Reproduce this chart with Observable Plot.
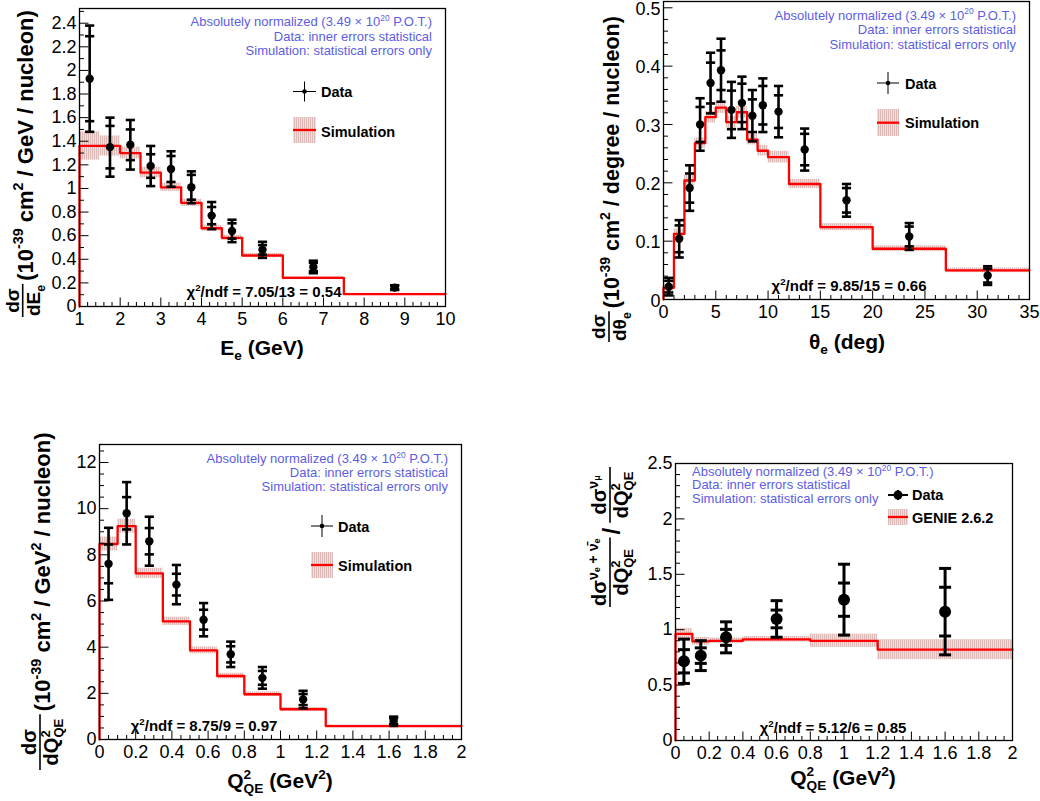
<!DOCTYPE html>
<html><head><meta charset="utf-8">
<script src="https://cdn.jsdelivr.net/npm/d3@7"></script>
<script src="https://cdn.jsdelivr.net/npm/@observablehq/plot@0.6"></script>
<style>
body{margin:0;background:#fff;}
#root{position:relative;width:1040px;height:801px;overflow:hidden;background:#fff;}
#root svg{position:absolute;}
</style></head><body>
<svg width="0" height="0" style="position:absolute"><defs>
<pattern id="hatch" width="2" height="2" patternUnits="userSpaceOnUse"><rect width="2" height="2" fill="#efdfdd"/><rect width="1" height="2" fill="#dcbab7"/></pattern>
</defs></svg>
<div id="root"></div>
<script>
// ---------- Panel 1: dσ/dE_e ----------
const eEdges = [1,1.5,2,2.5,3,3.5,4,4.5,5,6,7.5,10];
const eSim = [1.36,1.36,1.30,1.135,1.01,0.878,0.663,0.582,0.432,0.243,0.104];
const eSimErr = [0.12,0.085,0.05,0.045,0.035,0.03,0.025,0.022,0.018,0.012,0.008];
const eX = [1.25,1.75,2.25,2.75,3.25,3.75,4.25,4.75,5.5,6.75,8.75];
const eY = [1.93,1.35,1.37,1.19,1.165,1.01,0.77,0.64,0.48,0.335,0.16];
const eStat = [0.36,0.18,0.13,0.10,0.11,0.105,0.073,0.065,0.04,0.035,0.015];
const eTot = [0.45,0.25,0.21,0.17,0.15,0.135,0.115,0.095,0.068,0.053,0.02];
const eXTicks = [1,2,3,4,5,6,7,8,9,10];
const eYTicks = [0,0.2,0.4,0.6,0.8,1,1.2,1.4,1.6,1.8,2,2.2,2.4];

// ---------- Panel 2: dσ/dθ_e ----------
const tEdges = [0,1,2,3,4,5,6,7,8,9,10,12,15,20,27,35];
const tSim = [0.02,0.1126,0.204,0.268,0.3126,0.329,0.304,0.321,0.274,0.255,0.244,0.198,0.124,0.087,0.05];
const tSimErr = [0.006,0.008,0.009,0.009,0.01,0.01,0.01,0.01,0.009,0.009,0.01,0.008,0.006,0.005,0.004];
const tX = [0.5,1.5,2.5,3.5,4.5,5.5,6.5,7.5,8.5,9.5,11,13.5,17.5,23.5,31];
const tY = [0.022,0.104,0.191,0.30,0.371,0.393,0.325,0.337,0.315,0.333,0.322,0.257,0.17,0.108,0.041];
const tStat = [0.01,0.023,0.025,0.03,0.035,0.034,0.033,0.033,0.028,0.033,0.028,0.027,0.021,0.017,0.012];
const tTot = [0.015,0.032,0.039,0.045,0.052,0.054,0.048,0.045,0.044,0.046,0.044,0.036,0.028,0.023,0.016];
const tXTicks = [0,5,10,15,20,25,30,35];
const tYTicks = [0,0.1,0.2,0.3,0.4,0.5];

// ---------- Panel 3: dσ/dQ²_QE ----------
const qEdges = [0,0.1,0.2,0.35,0.5,0.65,0.8,1.0,1.25,2.0];
const qSim = [8.47,9.24,7.2,5.12,3.86,2.75,1.96,1.31,0.58];
const qSimErr = [0.3,0.3,0.22,0.18,0.15,0.12,0.1,0.08,0.05];
const qX = [0.05,0.15,0.275,0.425,0.575,0.725,0.9,1.125,1.625];
const qY = [7.61,9.8,8.59,6.71,5.19,3.69,2.67,1.73,0.79];
const qStat = [0.84,0.7,0.57,0.47,0.43,0.35,0.3,0.24,0.13];
const qTot = [1.56,1.35,1.06,0.85,0.72,0.55,0.47,0.38,0.2];
const qXTicks = [0,0.2,0.4,0.6,0.8,1,1.2,1.4,1.6,1.8,2];
const qYTicks = [0,2,4,6,8,10,12];

// ---------- Panel 4: ratio ----------
const rEdges = [0,0.1,0.2,0.4,0.8,1.2,2.0];
const rSim = [0.962,0.895,0.90,0.913,0.90,0.82];
const rSimErr = [0.05,0.035,0.025,0.025,0.06,0.09];
const rX = [0.05,0.15,0.3,0.6,1.0,1.6];
const rY = [0.715,0.766,0.931,1.097,1.271,1.163];
const rStat = [0.105,0.07,0.072,0.08,0.15,0.22];
const rTot = [0.2,0.135,0.14,0.165,0.32,0.39];
const rXTicks = [0,0.2,0.4,0.6,0.8,1,1.2,1.4,1.6,1.8,2];
const rYTicks = [0,0.5,1,1.5,2,2.5];

// ---------- Texts ----------
const infoLines = [["Absolutely normalized (3.49 × 10", {t:"20", sup:true}, " P.O.T.)"], ["Data: inner errors statistical"], ["Simulation: statistical errors only"]];
const chiTexts = ["7.05/13 = 0.54", "9.85/15 = 0.66", "8.75/9 = 0.97", "5.12/6 = 0.85"];
const legendLabels = ["Data", "Simulation", "GENIE 2.6.2"];

const FONT = "'Liberation Sans', Arial, Helvetica, sans-serif";
const INFO_COLOR = "#5d5de3";
const fmt = d3.format("~g");

function hbar(w){return {draw(c){c.moveTo(-w,0);c.lineTo(w,0);}};}
function tickRight(L){return {draw(c){c.moveTo(0,0);c.lineTo(L,0);}};}
function tickUp(L){return {draw(c){c.moveTo(0,0);c.lineTo(0,-L);}};}
function minorOf(domain, step, majors){
  const n = Math.floor((domain[1]-domain[0])/step + 1e-6);
  return d3.range(n+1).map(i=>+(domain[0]+i*step).toFixed(6)).filter(v=>!majors.some(m=>Math.abs(m-v)<1e-9));
}

function rich(parent, parts, {x=0, y=0, size=14, weight="normal", anchor="start", fill="black"}={}) {
  const text = parent.append("text").attr("x", x).attr("y", y).attr("font-size", size)
    .attr("font-weight", weight).attr("text-anchor", anchor).attr("fill", fill).style("white-space","pre");
  let cur = 0, lastSup = null;
  for (const p of parts) {
    const o = typeof p === "string" ? {t:p} : p;
    let off = 0, fs = size;
    if (o.sup) { off = -size*0.42; fs = size*(o.scale||0.65); }
    if (o.sub) { off = size*0.25; fs = size*(o.scale||0.65); }
    if (o.off != null) { off = o.off*size; fs = size*(o.scale||0.45); }
    const ts = text.append("tspan").attr("font-size", fs).attr("dy", off-cur).text(o.t);
    if (o.back && lastSup) ts.attr("dx", -lastSup.node().getComputedTextLength());
    if (o.sup) lastSup = ts;
    cur = off;
  }
  return text;
}
const len = t => t.node().getComputedTextLength();

function yTitle(s, {x, y, items}) {
  const g = s.append("g").attr("transform", `translate(${x},${y}) rotate(-90)`);
  let u = 0;
  items.forEach((it, i) => {
    if (i > 0) u += (it.gap ?? 4);
    if (it.frac) {
      const n = rich(g, it.frac[0], {size: it.size, weight: "bold", anchor: "middle"});
      const d = rich(g, it.frac[1], {size: it.size, weight: "bold", anchor: "middle"});
      const w = Math.max(len(n), len(d)) + 2;
      n.attr("x", u + w/2).attr("y", -it.size*0.2);
      d.attr("x", u + w/2).attr("y", it.size*0.9);
      g.append("line").attr("x1", u).attr("x2", u+w).attr("y1", 0).attr("y2", 0).attr("stroke", "black").attr("stroke-width", 1.6);
      u += w;
    } else {
      const t = rich(g, it.parts, {size: it.size, weight: "bold"});
      t.attr("x", u).attr("y", it.size*(it.off ?? 0.45));
      u += len(t);
    }
  });
}

function build(cfg) {
  const [mt, mr, mb, ml] = cfg.margin;
  const bins = cfg.sim.map((v,i)=>({lo:cfg.edges[i], hi:cfg.edges[i+1], v, e:cfg.simErr[i]}));
  const step = [{x:cfg.edges[0], y:0}, ...bins.map(b=>({x:b.lo, y:b.v})), {x:cfg.edges[cfg.edges.length-1], y:bins[bins.length-1].v}];
  const pts = cfg.px.map((x,i)=>({x, y:cfg.py[i], s:cfg.stat[i], t:cfg.tot[i]}));
  const caps = pts.flatMap(p=>[p.y-p.t, p.y+p.t, p.y-p.s, p.y+p.s].map(y=>({x:p.x, y})));
  const x0 = cfg.xDomain[0], y0 = cfg.yDomain[0];
  const xMinor = minorOf(cfg.xDomain, cfg.xMinor, cfg.xTicks);
  const yMinor = minorOf(cfg.yDomain, cfg.yMinor, cfg.yTicks);
  const tk = {stroke:"black", fill:"none", r:1, strokeWidth:1};
  const svg = Plot.plot({
    width: cfg.width, height: cfg.height,
    marginTop: mt, marginRight: mr, marginBottom: mb, marginLeft: ml,
    x: {domain: cfg.xDomain}, y: {domain: cfg.yDomain},
    style: {fontFamily: FONT, fontSize: "18px", background: "transparent", overflow: "visible", color: "black"},
    marks: [
      Plot.rect(bins, {x1:"lo", x2:"hi", y1:d=>d.v-d.e, y2:d=>d.v+d.e, fill:"url(#hatch)"}),
      Plot.line(step, {x:"x", y:"y", curve:"step-after", stroke:"#ff0000", strokeWidth:2.3}),
      Plot.dot(cfg.yTicks, {x:x0, y:d=>d, symbol:tickRight(cfg.tl), ...tk}),
      Plot.dot(yMinor, {x:x0, y:d=>d, symbol:tickRight(cfg.tl/2), ...tk}),
      Plot.dot(cfg.xTicks, {x:d=>d, y:y0, symbol:tickUp(cfg.tl), ...tk}),
      Plot.dot(xMinor, {x:d=>d, y:y0, symbol:tickUp(cfg.tl/2), ...tk}),
      Plot.ruleX(pts, {x:"x", y1:d=>d.y-d.t, y2:d=>d.y+d.t, stroke:"black", strokeWidth:cfg.ew}),
      Plot.dot(caps, {x:"x", y:"y", symbol:hbar(cfg.cap), stroke:"black", fill:"none", r:1, strokeWidth:cfg.ew}),
      Plot.dot(pts, {x:"x", y:"y", r:cfg.r, fill:"black", stroke:"none"}),
      Plot.axisX({ticks:cfg.xTicks, tickSize:0, tickPadding:6, tickFormat:fmt, label:null, fontSize:18}),
      Plot.axisY({ticks:cfg.yTicks, tickSize:0, tickPadding:3, tickFormat:fmt, label:null, fontSize:18, dy:cfg.ylabDy || 0}),
      Plot.frame({stroke:"black", strokeWidth:1.3})
    ]
  });
  svg.style.left = cfg.left + "px";
  svg.style.top = cfg.top + "px";
  document.getElementById("root").appendChild(svg);
  const s = d3.select(svg);
  const g = s.append("g").attr("font-family", FONT);
  infoLines.forEach((parts,i)=>rich(g, parts, {x:cfg.info.x, y:cfg.info.ys[i], size:13, anchor:cfg.info.anchor, fill:INFO_COLOR}));
  rich(g, ["χ", {t:"2", sup:true}, "/ndf = " + cfg.chi.text], {x:cfg.chi.x, y:cfg.chi.y, size:15, weight:"bold", anchor:"middle"});
  const L = cfg.legend;
  g.append("line").attr("x1", L.cx-L.hw).attr("x2", L.cx+L.hw).attr("y1", L.cy).attr("y2", L.cy).attr("stroke","black").attr("stroke-width", L.lw);
  g.append("line").attr("x1", L.cx).attr("x2", L.cx).attr("y1", L.cy-L.hh).attr("y2", L.cy+L.hh).attr("stroke","black").attr("stroke-width", L.lw);
  g.append("circle").attr("cx", L.cx).attr("cy", L.cy).attr("r", L.dotR).attr("fill","black");
  rich(g, [legendLabels[0]], {x:L.tx, y:L.ty1, size:14.5, weight:"bold"});
  g.append("rect").attr("x", L.box[0]).attr("y", L.box[1]).attr("width", L.box[2]).attr("height", L.box[3]).attr("fill", "url(#hatch)");
  g.append("line").attr("x1", L.box[0]).attr("x2", L.box[0]+L.box[2]).attr("y1", L.ly).attr("y2", L.ly).attr("stroke","#ff0000").attr("stroke-width", 2.3);
  rich(g, [L.label2], {x:L.tx, y:L.ty2, size:14.5, weight:"bold"});
  rich(g, cfg.xTitle.parts, {x:cfg.xTitle.x, y:cfg.xTitle.y, size:21, weight:"bold", anchor:"middle"});
  yTitle(g, cfg.yTitle);
}

const q2 = ["Q", {t:"2", sup:true}, {t:"QE", sub:true, back:true}, " (GeV", {t:"2", sup:true}, ")"];
const dQ2 = ["dQ", {t:"2", sup:true}, {t:"QE", sub:true, back:true}];

build({left:0, top:0, width:520, height:400, margin:[8,75,94,79],
  edges:eEdges, sim:eSim, simErr:eSimErr, px:eX, py:eY, stat:eStat, tot:eTot,
  xDomain:[1,10], yDomain:[0,2.5246], xTicks:eXTicks, yTicks:eYTicks, xMinor:0.2, yMinor:0.1,
  tl:9, ew:2.6, cap:4.6, r:4.2,
  info:{x:432, ys:[26,40.5,55], anchor:"end"},
  chi:{x:264, y:297, text:chiTexts[0]},
  legend:{cx:304.5, cy:91.5, hw:11.5, hh:10, dotR:2.3, lw:1, tx:321, ty1:96.5, box:[293,117,23,26], ly:130, ty2:136.5, label2:legendLabels[1]},
  xTitle:{x:262, y:355, parts:["E", {t:"e", sub:true}, " (GeV)"]},
  yTitle:{x:22.7, y:317, items:[{frac:[["dσ"], ["dE", {t:"e", sub:true}]], size:19},
    {parts:["(10", {t:"-39", sup:true}, " cm", {t:"2", sup:true}, " / GeV / nucleon)"], size:22, gap:3}]}
});

build({left:520, top:0, width:520, height:400, margin:[1,11,101,143],
  edges:tEdges, sim:tSim, simErr:tSimErr, px:tX, py:tY, stat:tStat, tot:tTot,
  xDomain:[0,35], yDomain:[0,0.5108], xTicks:tXTicks, yTicks:tYTicks, xMinor:1, yMinor:0.02,
  tl:9, ew:2.6, cap:4.6, r:4.2, ylabDy:1.5,
  info:{x:496, ys:[19.5,34,48.5], anchor:"end"},
  chi:{x:329, y:291, text:chiTexts[1]},
  legend:{cx:368, cy:83, hw:11, hh:11, dotR:2.3, lw:1, tx:385, ty1:89, box:[357,109,22,27], ly:122.7, ty2:128, label2:legendLabels[1]},
  xTitle:{x:327, y:349, parts:["θ", {t:"e", sub:true}, " (deg)"]},
  yTitle:{x:89, y:342, items:[{frac:[["dσ"], ["dθ", {t:"e", sub:true}]], size:19},
    {parts:["(10", {t:"-39", sup:true}, " cm", {t:"2", sup:true}, " / degree / nucleon)"], size:21.5, gap:3}]}
});

build({left:0, top:400, width:560, height:401, margin:[44,99,62,99],
  edges:qEdges, sim:qSim, simErr:qSimErr, px:qX, py:qY, stat:qStat, tot:qTot,
  xDomain:[0,2], yDomain:[0,12.78], xTicks:qXTicks, yTicks:qYTicks, xMinor:0.05, yMinor:0.5,
  tl:9, ew:2.6, cap:4.6, r:4.2,
  info:{x:448, ys:[63,76.5,91], anchor:"end"},
  chi:{x:204, y:331, text:chiTexts[2]},
  legend:{cx:322, cy:126, hw:11, hh:11, dotR:2.3, lw:1, tx:338, ty1:131.5, box:[311,152,22,26], ly:165, ty2:171, label2:legendLabels[1]},
  xTitle:{x:280, y:388, parts:q2},
  yTitle:{x:40, y:370, items:[{frac:[["dσ"], dQ2], size:20},
    {parts:["(10", {t:"-39", sup:true}, " cm", {t:"2", sup:true}, " / GeV", {t:"2", sup:true}, " / nucleon)"], size:22, gap:3}]}
});

build({left:560, top:440, width:480, height:361, margin:[23,28,61,115],
  edges:rEdges, sim:rSim, simErr:rSimErr, px:rX, py:rY, stat:rStat, tot:rTot,
  xDomain:[0,2], yDomain:[0,2.5], xTicks:rXTicks, yTicks:rYTicks, xMinor:0.05, yMinor:0.1,
  tl:9, ew:3, cap:6, r:6,
  info:{x:132, ys:[36,49,62.5], anchor:"start"},
  chi:{x:273, y:293, text:chiTexts[3]},
  legend:{cx:338, cy:55, hw:10, hh:5, dotR:4.5, lw:2, tx:352, ty1:59.5, box:[328,69,20,16], ly:77, ty2:82.5, label2:legendLabels[2]},
  xTitle:{x:283, y:345, parts:q2},
  yTitle:{x:50, y:167, items:[
    {frac:[["dσ", {t:"ν", sup:true, scale:0.7}, {t:"e", off:-0.3, scale:0.45}, {t:" + ν̄", sup:true, scale:0.7}, {t:"e", off:-0.3, scale:0.45}], dQ2], size:20},
    {parts:["/"], size:24, off:0.4, gap:3},
    {frac:[["dσ", {t:"ν", sup:true, scale:0.7}, {t:"μ", off:-0.3, scale:0.45}], dQ2], size:20, gap:5}]}
});
</script>
</body></html>
